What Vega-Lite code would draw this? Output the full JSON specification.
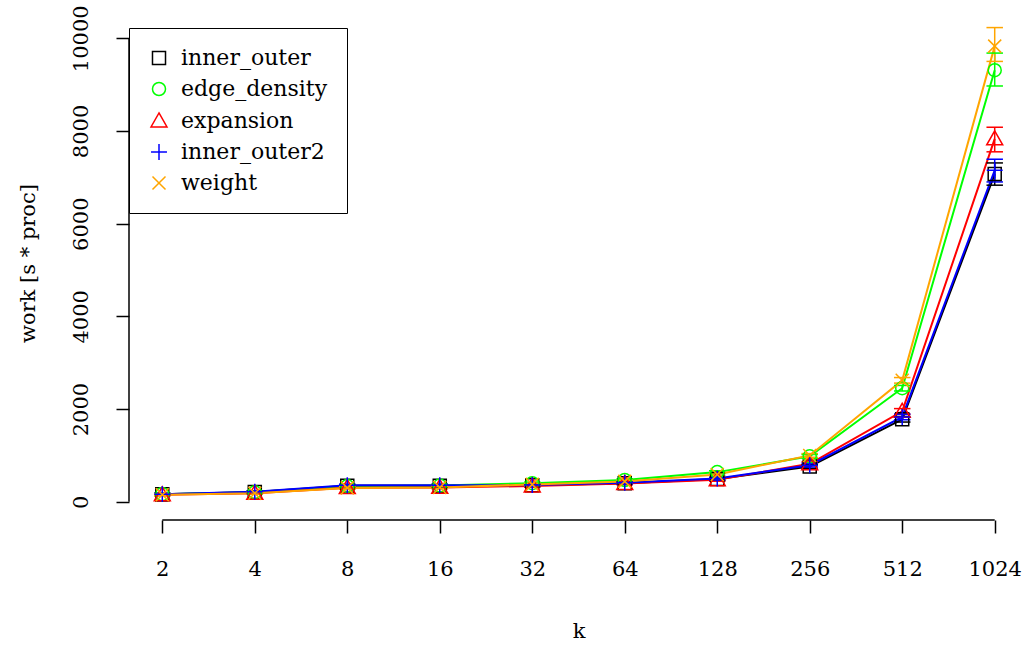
{
  "$schema": "https://vega.github.io/schema/vega-lite/v6.json",
  "width": 899,
  "height": 492,
  "autosize": {"type": "none"},
  "padding": {"left": 129, "top": 28, "right": 3, "bottom": 125},
  "background": "white",
  "config": {
    "view": {"stroke": null},
    "font": "DejaVu Serif",
    "axis": {
      "grid": false,
      "domain": false,
      "tickColor": "black",
      "tickWidth": 1.5,
      "tickSize": 13,
      "labelColor": "black",
      "labelFont": "DejaVu Serif",
      "labelFontSize": 21,
      "titleFont": "DejaVu Serif",
      "titleFontSize": 21,
      "titleFontWeight": "normal",
      "titleColor": "black"
    },
    "legend": {
      "labelFont": "DejaVu Serif",
      "labelFontSize": 22,
      "labelColor": "black",
      "symbolOpacity": 1
    }
  },
  "data": {
    "values": [
      {"k": 2, "alg": "inner_outer", "work": 160, "lo": 140, "hi": 180},
      {"k": 2, "alg": "edge_density", "work": 165, "lo": 145, "hi": 185},
      {"k": 2, "alg": "expansion", "work": 150, "lo": 130, "hi": 170},
      {"k": 2, "alg": "inner_outer2", "work": 165, "lo": 145, "hi": 185},
      {"k": 2, "alg": "weight", "work": 150, "lo": 130, "hi": 170},
      {"k": 4, "alg": "inner_outer", "work": 210, "lo": 190, "hi": 230},
      {"k": 4, "alg": "edge_density", "work": 205, "lo": 185, "hi": 225},
      {"k": 4, "alg": "expansion", "work": 185, "lo": 165, "hi": 205},
      {"k": 4, "alg": "inner_outer2", "work": 215, "lo": 195, "hi": 235},
      {"k": 4, "alg": "weight", "work": 185, "lo": 165, "hi": 205},
      {"k": 8, "alg": "inner_outer", "work": 345, "lo": 320, "hi": 370},
      {"k": 8, "alg": "edge_density", "work": 340, "lo": 315, "hi": 365},
      {"k": 8, "alg": "expansion", "work": 305, "lo": 280, "hi": 330},
      {"k": 8, "alg": "inner_outer2", "work": 355, "lo": 330, "hi": 380},
      {"k": 8, "alg": "weight", "work": 300, "lo": 275, "hi": 325},
      {"k": 16, "alg": "inner_outer", "work": 345, "lo": 320, "hi": 370},
      {"k": 16, "alg": "edge_density", "work": 350, "lo": 325, "hi": 375},
      {"k": 16, "alg": "expansion", "work": 310, "lo": 285, "hi": 335},
      {"k": 16, "alg": "inner_outer2", "work": 355, "lo": 330, "hi": 380},
      {"k": 16, "alg": "weight", "work": 310, "lo": 285, "hi": 335},
      {"k": 32, "alg": "inner_outer", "work": 355, "lo": 330, "hi": 380},
      {"k": 32, "alg": "edge_density", "work": 400, "lo": 375, "hi": 425},
      {"k": 32, "alg": "expansion", "work": 340, "lo": 315, "hi": 365},
      {"k": 32, "alg": "inner_outer2", "work": 360, "lo": 335, "hi": 385},
      {"k": 32, "alg": "weight", "work": 375, "lo": 350, "hi": 400},
      {"k": 64, "alg": "inner_outer", "work": 400, "lo": 375, "hi": 425},
      {"k": 64, "alg": "edge_density", "work": 470, "lo": 445, "hi": 495},
      {"k": 64, "alg": "expansion", "work": 395, "lo": 370, "hi": 420},
      {"k": 64, "alg": "inner_outer2", "work": 410, "lo": 385, "hi": 435},
      {"k": 64, "alg": "weight", "work": 440, "lo": 415, "hi": 465},
      {"k": 128, "alg": "inner_outer", "work": 490, "lo": 460, "hi": 520},
      {"k": 128, "alg": "edge_density", "work": 640, "lo": 610, "hi": 670},
      {"k": 128, "alg": "expansion", "work": 475, "lo": 445, "hi": 505},
      {"k": 128, "alg": "inner_outer2", "work": 500, "lo": 470, "hi": 530},
      {"k": 128, "alg": "weight", "work": 590, "lo": 560, "hi": 620},
      {"k": 256, "alg": "inner_outer", "work": 760, "lo": 720, "hi": 800},
      {"k": 256, "alg": "edge_density", "work": 980, "lo": 940, "hi": 1020},
      {"k": 256, "alg": "expansion", "work": 820, "lo": 780, "hi": 860},
      {"k": 256, "alg": "inner_outer2", "work": 790, "lo": 750, "hi": 830},
      {"k": 256, "alg": "weight", "work": 1000, "lo": 960, "hi": 1040},
      {"k": 512, "alg": "inner_outer", "work": 1780, "lo": 1720, "hi": 1840},
      {"k": 512, "alg": "edge_density", "work": 2450, "lo": 2390, "hi": 2510},
      {"k": 512, "alg": "expansion", "work": 1950, "lo": 1890, "hi": 2010},
      {"k": 512, "alg": "inner_outer2", "work": 1830, "lo": 1770, "hi": 1890},
      {"k": 512, "alg": "weight", "work": 2620, "lo": 2560, "hi": 2680},
      {"k": 1024, "alg": "inner_outer", "work": 7070, "lo": 6830, "hi": 7310},
      {"k": 1024, "alg": "edge_density", "work": 9310, "lo": 8970, "hi": 9680},
      {"k": 1024, "alg": "expansion", "work": 7830, "lo": 7550, "hi": 8080},
      {"k": 1024, "alg": "inner_outer2", "work": 7150, "lo": 6900, "hi": 7390},
      {"k": 1024, "alg": "weight", "work": 9830, "lo": 9500, "hi": 10230}
    ]
  },
  "layer": [
    {
      "data": {"values": [{}]},
      "mark": {"type": "rule", "color": "black", "strokeWidth": 1.5},
      "encoding": {
        "x": {"datum": 1.5583, "type": "quantitative", "title": "k"},
        "y": {"datum": 0, "type": "quantitative", "title": "work [s * proc]"},
        "y2": {"datum": 10000}
      }
    },
    {
      "data": {"values": [{}]},
      "mark": {"type": "rule", "color": "black", "strokeWidth": 1.5},
      "encoding": {
        "x": {"datum": 2, "type": "quantitative", "title": "k"},
        "x2": {"datum": 1024},
        "y": {"datum": -393, "type": "quantitative", "title": "work [s * proc]"}
      }
    },
    {
      "mark": {"type": "line", "strokeWidth": 2},
      "encoding": {
        "x": {
          "field": "k", "type": "quantitative", "title": "k",
          "scale": {"type": "log", "base": 2, "domain": [1.5583, 1314.2], "nice": false, "zero": false},
          "axis": {"values": [2, 4, 8, 16, 32, 64, 128, 256, 512, 1024], "format": "d", "labelPadding": 25, "titlePadding": 41}
        },
        "y": {
          "field": "work", "type": "quantitative", "title": "work [s * proc]",
          "scale": {"domain": [-393, 10221], "nice": false, "zero": false},
          "axis": {"values": [0, 2000, 4000, 6000, 8000, 10000], "format": "d", "labelAngle": 270, "labelAlign": "center", "labelBaseline": "alphabetic", "labelPadding": 29, "titlePadding": 32, "titleY": 235}
        },
        "color": {
          "field": "alg", "type": "nominal",
          "scale": {"domain": ["inner_outer", "edge_density", "expansion", "inner_outer2", "weight"], "range": ["#000000", "#00FF00", "#FF0000", "#0000FF", "#FFA500"]}
        },
        "detail": {"field": "alg"},
        "order": {"field": "k"}
      }
    },
    {
      "mark": {"type": "rule", "strokeWidth": 1.5},
      "encoding": {
        "x": {"field": "k", "type": "quantitative", "title": "k"},
        "y": {"field": "lo", "type": "quantitative", "title": "work [s * proc]"},
        "y2": {"field": "hi"},
        "color": {"field": "alg", "type": "nominal"}
      }
    },
    {
      "mark": {"type": "tick", "orient": "horizontal", "size": 15, "thickness": 0.01, "filled": false, "strokeWidth": 1.5, "opacity": 1},
      "encoding": {
        "x": {"field": "k", "type": "quantitative", "title": "k"},
        "y": {"field": "lo", "type": "quantitative", "title": "work [s * proc]"},
        "color": {"field": "alg", "type": "nominal"}
      }
    },
    {
      "mark": {"type": "tick", "orient": "horizontal", "size": 15, "thickness": 0.01, "filled": false, "strokeWidth": 1.5, "opacity": 1},
      "encoding": {
        "x": {"field": "k", "type": "quantitative", "title": "k"},
        "y": {"field": "hi", "type": "quantitative", "title": "work [s * proc]"},
        "color": {"field": "alg", "type": "nominal"}
      }
    },
    {
      "mark": {"type": "point", "filled": false, "strokeWidth": 1.5, "opacity": 1, "size": 196},
      "encoding": {
        "x": {"field": "k", "type": "quantitative", "title": "k"},
        "y": {"field": "work", "type": "quantitative", "title": "work [s * proc]"},
        "color": {
          "field": "alg", "type": "nominal",
          "legend": {
            "title": null, "orient": "top-left", "offset": 0,
            "strokeColor": "black", "fillColor": "white",
            "padding": 19, "rowPadding": 9, "labelOffset": 11,
            "symbolSize": 196, "symbolStrokeWidth": 1.5, "symbolOpacity": 1
          }
        },
        "shape": {
          "field": "alg", "type": "nominal",
          "scale": {"domain": ["inner_outer", "edge_density", "expansion", "inner_outer2", "weight"], "range": ["M-0.93,-0.93L0.93,-0.93L0.93,0.93L-0.93,0.93Z", "M-0.93,0A0.93,0.93,0,1,0,0.93,0A0.93,0.93,0,1,0,-0.93,0Z", "M0,-1.15L1.14,0.85L-1.14,0.85Z", "M-1.14,0L1.14,0M0,-1.14L0,1.14", "M-0.93,-0.93L0.93,0.93M-0.93,0.93L0.93,-0.93"]},
          "legend": {
            "title": null, "orient": "top-left", "offset": 0,
            "strokeColor": "black", "fillColor": "white",
            "padding": 19, "rowPadding": 9, "labelOffset": 11,
            "symbolSize": 196, "symbolStrokeWidth": 1.5, "symbolOpacity": 1
          }
        }
      }
    }
  ]
}
